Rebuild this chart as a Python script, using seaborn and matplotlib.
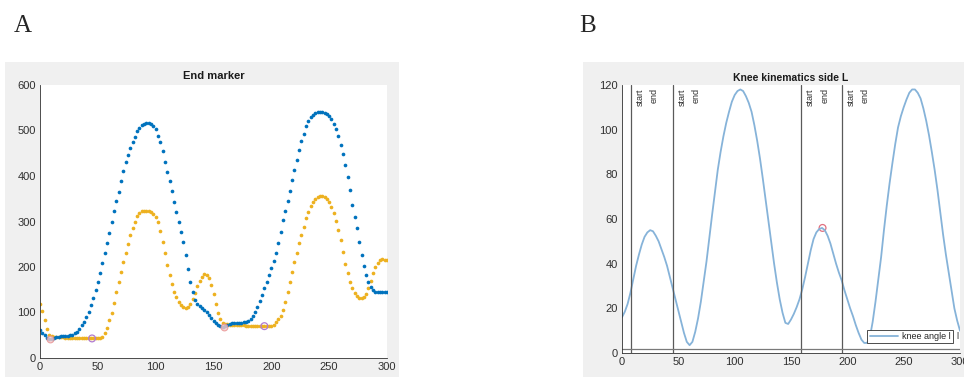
import matplotlib
matplotlib.use("Agg")
import matplotlib.pyplot as plt
import matplotlib.transforms as mtransforms
from matplotlib.patches import Rectangle
import numpy as np
import pandas as pd
import seaborn as sns

# panel A: end marker, one value every 2 frames (0..300)
end_blue = [
    61, 56, 50, 45, 42, 42, 44, 46, 47, 48,
    48, 49, 49, 50, 51, 54, 58, 64, 72, 80,
    90, 102, 117, 132, 149, 167, 187, 208, 230, 252,
    274, 299, 322, 344, 365, 388, 411, 430, 446, 461,
    474, 486, 498, 506, 511, 514, 516, 517, 515, 510,
    503, 489, 474, 455, 431, 409, 388, 367, 343, 321,
    300, 278, 254, 227, 196, 168, 145, 128, 119, 114,
    110, 106, 101, 95, 88, 81, 76, 73, 70, 69,
    71, 73, 75, 76, 76, 77, 77, 78, 79, 80,
    82, 86, 93, 102, 113, 125, 138, 153, 168, 182,
    198, 213, 230, 253, 278, 303, 324, 346, 368, 391,
    413, 436, 457, 476, 493, 509, 520, 529, 535, 539,
    541, 541, 541, 539, 536, 532, 525, 515, 504, 487,
    469, 448, 424, 398, 369, 337, 309, 285, 254, 227,
    202, 183, 168, 157, 149, 146, 145, 145, 145, 145,
    145]
end_yellow = [
    119, 103, 84, 63, 51, 49, 47, 47, 46, 46,
    46, 45, 45, 45, 45, 44, 44, 44, 43, 43,
    43, 43, 43, 43, 43, 44, 45, 47, 55, 67,
    83, 100, 121, 145, 167, 190, 211, 231, 251, 270,
    286, 300, 311, 318, 322, 324, 324, 324, 321, 316,
    309, 298, 280, 256, 230, 204, 182, 162, 146, 134,
    124, 117, 113, 110, 111, 118, 130, 142, 158, 170,
    179, 184, 182, 176, 160, 141, 119, 100, 85, 78,
    75, 74, 73, 73, 73, 72, 72, 72, 72, 71,
    71, 71, 70, 70, 70, 70, 70, 70, 70, 70,
    71, 73, 79, 85, 93, 106, 122, 146, 168, 190,
    211, 231, 252, 271, 289, 307, 321, 333, 343, 350,
    354, 356, 356, 354, 350, 343, 332, 319, 302, 282,
    259, 232, 207, 186, 168, 154, 143, 136, 132, 131,
    134, 141, 154, 170, 186, 199, 209, 215, 217, 216,
    215]
start_x = [9, 159]
start_y = [41, 69]
end_x = [45, 194]
end_y = [43, 70]

# panel B: knee angle, one value every 2.5 frames (0..300)
knee_angle = [
    16, 18.5, 22, 27, 33, 39, 44, 48.5, 52, 54,
    55, 54.5, 52.5, 50, 46.5, 43, 39, 34, 29, 24,
    19, 14, 9, 5, 3.5, 5, 9.5, 15.5, 23, 32,
    41, 51.5, 62, 72, 82, 90, 97, 103, 108, 112.5,
    115.5, 117.3, 118, 117.3, 115, 112, 108, 102, 95, 87,
    78, 68.5, 59, 49.5, 40, 31.5, 24, 18, 13.5, 13,
    15, 17.5, 20.5, 24, 28.5, 34, 40, 46, 51, 54,
    55.5, 56, 55, 52.5, 49, 44.5, 40, 36, 32.5, 28,
    24, 20, 16.5, 12.5, 9, 6, 4.5, 4.5, 7, 14,
    23, 33, 43, 55, 66, 76, 85, 93.5, 101, 106,
    110, 113.5, 116.5, 118, 118, 116.5, 114, 109.5, 104, 97.5,
    90, 82, 73, 63, 53, 44, 36, 28, 20, 14.5,
    10]
event_frames = [8, 45, 159, 195]
knee_mark_x = [178]
knee_mark_y = [56]

df_a = pd.DataFrame({"frame": np.arange(len(end_blue)) * 2,
                     "blue": end_blue, "yellow": end_yellow})
df_b = pd.DataFrame({"frame": np.arange(len(knee_angle)) * 2.5,
                     "angle": knee_angle})

sns.set_style("white")
plt.rcParams["font.family"] = ["Liberation Sans", "DejaVu Sans"]
ink = "#303030"

fig = plt.figure(figsize=(9.64, 3.77), dpi=100)
fig.add_artist(Rectangle((5 / 964, 0), 394 / 964, 315 / 377, transform=fig.transFigure,
                         facecolor="#f0f0f0", edgecolor="none", zorder=-1))
fig.add_artist(Rectangle((583 / 964, 0), 381 / 964, 315 / 377, transform=fig.transFigure,
                         facecolor="#f0f0f0", edgecolor="none", zorder=-1))

def style_axes(ax):
    ax.set_facecolor("white")
    for s in ["top", "right"]:
        ax.spines[s].set_visible(False)
    for s in ["left", "bottom"]:
        ax.spines[s].set_color(ink)
        ax.spines[s].set_linewidth(0.6)
    ax.tick_params(direction="in", length=3, width=0.6, colors=ink, labelsize=8, pad=3)
    ax.set_xlabel("")
    ax.set_ylabel("")

# A
ax1 = fig.add_axes([40 / 964, 19 / 377, 347 / 964, 273 / 377])
sns.scatterplot(data=df_a, x="frame", y="yellow", ax=ax1, color="#EDB120", s=7, linewidth=0)
sns.scatterplot(data=df_a, x="frame", y="blue", ax=ax1, color="#0072BD", s=7, linewidth=0)
ax1.scatter(start_x, start_y, s=24, facecolors="#f6c8c8", edgecolors="#e89090", linewidths=0.8, alpha=0.8)
ax1.scatter(end_x, end_y, s=24, facecolors="none", edgecolors="#b07ad0", linewidths=0.9)
ax1.set_xlim(0, 300)
ax1.set_ylim(0, 600)
ax1.set_xticks(range(0, 301, 50))
ax1.set_yticks(range(0, 601, 100))
style_axes(ax1)
ax1.set_title("End marker", fontsize=8, fontweight="bold", color="#1a1a1a", pad=4)

# B
ax2 = fig.add_axes([622 / 964, 24 / 377, 338 / 964, 268 / 377])
sns.lineplot(data=df_b, x="frame", y="angle", ax=ax2, color="#86b3d9", linewidth=1.3,
             label="knee angle l")
for f in event_frames:
    ax2.axvline(f, color="#5a5a5a", linewidth=0.9)
    t1 = mtransforms.offset_copy(ax2.get_xaxis_transform(), fig=fig, x=5, y=-3, units="dots")
    ax2.text(f, 1, "start", transform=t1, rotation=90, ha="left", va="top", fontsize=6.5, color=ink)
    t2 = mtransforms.offset_copy(ax2.get_xaxis_transform(), fig=fig, x=19, y=-3, units="dots")
    ax2.text(f, 1, "end", transform=t2, rotation=90, ha="left", va="top", fontsize=6.5, color=ink)
ax2.axhline(2, color="#7a7a7a", linewidth=0.9)
ax2.scatter(knee_mark_x, knee_mark_y, s=24, facecolors="none", edgecolors="#e07080", linewidths=0.9)
ax2.set_xlim(0, 300)
ax2.set_ylim(0, 120)
ax2.set_xticks(range(0, 301, 50))
ax2.set_yticks(range(0, 121, 20))
style_axes(ax2)
ax2.set_title("Knee kinematics side L", fontsize=7.5, fontweight="bold", color="#1a1a1a", pad=3)
leg = ax2.legend(loc="lower right", bbox_to_anchor=(0.979, 0.037), borderaxespad=0,
                 fontsize=6.5, handlelength=3.2, borderpad=0.25, handletextpad=0.4,
                 fancybox=False, framealpha=1)
leg.get_frame().set_edgecolor(ink)
leg.get_frame().set_linewidth(0.6)
ax2.text(0.99, 0.06, "l", transform=ax2.transAxes, fontsize=6.5, color=ink, ha="left", va="center")

fig.text(14 / 964, 1 - 32 / 377, "A", family="Liberation Serif", fontsize=18, va="baseline")
fig.text(579 / 964, 1 - 32 / 377, "B", family="Liberation Serif", fontsize=18, va="baseline")

fig.savefig("out.png", dpi=100)
